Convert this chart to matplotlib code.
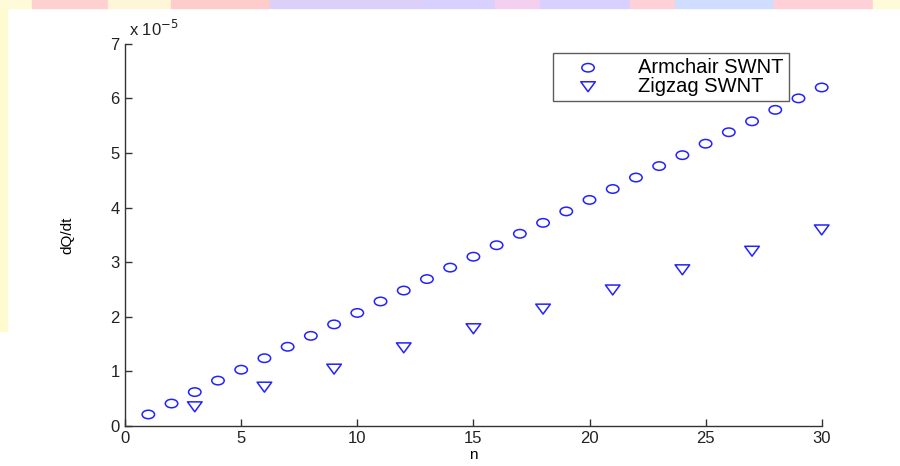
import matplotlib.pyplot as plt
from matplotlib.path import Path
from matplotlib.transforms import Affine2D
from matplotlib.patches import Rectangle

# data (dQ/dt in units of 1e-5)
n_arm = list(range(1, 31))
q_arm = [0.21, 0.41, 0.62, 0.83, 1.03, 1.24, 1.45, 1.65, 1.86, 2.07,
         2.28, 2.48, 2.69, 2.90, 3.10, 3.31, 3.52, 3.72, 3.93, 4.14,
         4.34, 4.55, 4.76, 4.96, 5.17, 5.38, 5.58, 5.79, 6.00, 6.20]
n_zig = [3, 6, 9, 12, 15, 18, 21, 24, 27, 30]
q_zig = [0.35, 0.71, 1.04, 1.43, 1.78, 2.14, 2.49, 2.86, 3.20, 3.59]

plt.rcParams['font.family'] = ['Liberation Sans', 'DejaVu Sans']

# flattened markers (the original picture is stretched sideways)
ellipse = Path.unit_circle().transformed(Affine2D().scale(1.0, 0.68))
tri = Path([(-1, 0.68), (1, 0.68), (0, -0.68), (-1, 0.68)],
           [Path.MOVETO, Path.LINETO, Path.LINETO, Path.CLOSEPOLY])

fig = plt.figure(figsize=(9, 4.66), dpi=100)

# slide background bits
fig.patches.append(Rectangle((0, 0.29), 0.008, 0.69, transform=fig.transFigure,
                             color='#fffbd0', zorder=0))
strip = [(0.0, '#fffbd8'), (0.035, '#ffd0d0'), (0.12, '#fff6d8'), (0.19, '#ffcccc'),
         (0.3, '#ddd0f8'), (0.47, '#d8d0ff'), (0.55, '#f4d0f0'), (0.6, '#d8d0ff'),
         (0.7, '#ffd0d8'), (0.75, '#d0ddff'), (0.86, '#ffd0d8'), (0.97, '#fffbd8')]
for i, (x0, c) in enumerate(strip):
    x1 = strip[i + 1][0] if i + 1 < len(strip) else 1.0
    fig.patches.append(Rectangle((x0, 0.983), x1 - x0, 0.017, transform=fig.transFigure,
                                 color=c, zorder=0))

ax = fig.add_axes([0.139, 0.086, 0.774, 0.82])
ax.scatter(n_arm, q_arm, marker=ellipse, s=80, facecolors='none',
           edgecolors='#2222ff', linewidths=1.1, label='Armchair SWNT', clip_on=False)
ax.scatter(n_zig, q_zig, marker=tri, s=110, facecolors='none',
           edgecolors='#2222ff', linewidths=1.1, label='Zigzag SWNT', clip_on=False)

ax.set_xlim(0, 30)
ax.set_ylim(0, 7)
ax.set_xticks(range(0, 31, 5))
ax.set_yticks(range(0, 8))
for s in ['top', 'right']:
    ax.spines[s].set_visible(False)
for s in ['left', 'bottom']:
    ax.spines[s].set_color('#333333')
    ax.spines[s].set_linewidth(1.0)
ax.tick_params(direction='in', length=5, width=1, colors='#333333',
               labelsize=12, labelcolor='#222222', pad=4)
ax.set_xlabel('n', fontsize=11, labelpad=1)
ax.set_ylabel('dQ/dt', fontsize=11, labelpad=26)
ax.text(0.005, 1.012, r'x 10$^{-5}$', transform=ax.transAxes, fontsize=12,
        ha='left', va='bottom', color='#222222')

leg = ax.legend(loc='upper left', bbox_to_anchor=(0.614, 0.976), fontsize=14.5,
                frameon=True, fancybox=False, borderpad=0.25, handletextpad=1.0,
                labelspacing=0.0, handlelength=3.0, borderaxespad=0)
leg.get_frame().set_edgecolor('#333333')
leg.get_frame().set_linewidth(1.0)

fig.savefig('out.png', dpi=100)
